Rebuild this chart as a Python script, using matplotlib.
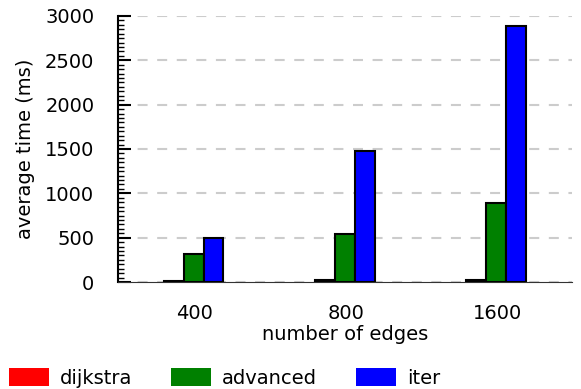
import numpy as np
import matplotlib
matplotlib.use('Agg')
from matplotlib import pyplot as plt
from matplotlib.patches import Patch
from matplotlib.ticker import MultipleLocator

edges = ['400', '800', '1600']
dijkstra = [10, 20, 28]
advanced = [315, 543, 893]
iter_times = [495, 1475, 2890]

series = [('dijkstra', dijkstra, '#ff0000'),
          ('advanced', advanced, '#008000'),
          ('iter', iter_times, '#0000ff')]


def main():
    plt.rcParams['font.family'] = 'DejaVu Sans'
    plt.rcParams['font.size'] = 14
    fig = plt.figure(figsize=(5.81, 3.89), dpi=100)
    ax = fig.add_axes([0.203, 0.275, 0.782, 0.684])

    x = np.arange(len(edges))
    width = 0.132
    for i, (name, vals, color) in enumerate(series):
        ax.bar(x + (i - 1) * width, vals, width, color=color,
               edgecolor='black', linewidth=1.5, zorder=3)

    ax.set_xlim(-0.5, 2.505)
    ax.set_ylim(0, 3000)
    ax.set_xticks(x + 0.008)
    ax.set_xticklabels(edges)
    ax.tick_params(axis='x', length=0, pad=16)
    ax.yaxis.set_major_locator(MultipleLocator(500))
    ax.yaxis.set_minor_locator(MultipleLocator(50))
    ax.tick_params(axis='y', which='major', direction='in', length=9, width=1.5,
                   pad=17)
    ax.tick_params(axis='y', which='minor', direction='in', length=4, width=1)
    ax.yaxis.grid(True, color='#cccccc', linestyle=(0, (4.8, 4.6)),
                  linewidth=1.5, zorder=0)
    for sp in ('top', 'right'):
        ax.spines[sp].set_visible(False)
    ax.spines['left'].set_linewidth(1.5)
    ax.spines['bottom'].set_color('#333333')
    ax.set_xlabel('number of edges', labelpad=1)
    ax.set_ylabel('average time (ms)', labelpad=7)

    handles = [Patch(facecolor=c, edgecolor='none', label=n) for n, _, c in series]
    fig.legend(handles=handles, loc='lower left', bbox_to_anchor=(0.015, 0.003),
               ncol=3, frameon=False, fontsize=14, handlelength=2.06,
               handleheight=1.08, handletextpad=0.57, columnspacing=2.0,
               borderaxespad=0, borderpad=0)
    fig.savefig('out.png', dpi=100)


if __name__ == '__main__':
    main()
